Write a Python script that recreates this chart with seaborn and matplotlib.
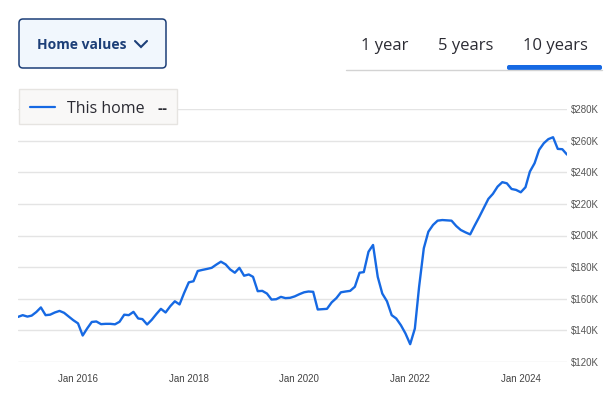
import pandas as pd
import matplotlib.pyplot as plt
import matplotlib.dates as mdates
from matplotlib.patches import FancyBboxPatch, Rectangle
from matplotlib.lines import Line2D
from matplotlib.ticker import FuncFormatter
import seaborn as sns

# ---- data ($K, monthly from Dec 2014) ----
start_month = "2014-12-01"
home_values_k = [
    148.4, 149.5, 148.6, 149.2, 151.5, 154.4, 149.5, 149.8, 151.2, 152.2,
    151.0, 148.6, 146.3, 144.3, 136.6, 141.0, 145.2, 145.5, 143.8, 144.0,
    144.0, 143.7, 145.3, 149.8, 149.5, 151.6, 147.4, 147.0, 143.6, 146.5,
    150.2, 153.5, 151.2, 155.2, 158.3, 156.3, 163.5, 170.3, 171.0, 177.5,
    178.2, 178.8, 179.5, 181.5, 183.4, 181.7, 178.5, 176.4, 179.5, 174.5,
    175.3, 173.8, 164.7, 164.9, 163.2, 159.4, 159.6, 161.1, 160.3, 160.5,
    161.4, 162.8, 164.0, 164.5, 164.3, 153.1, 153.3, 153.5, 157.6, 160.3,
    164.0, 164.5, 164.9, 167.5, 176.4, 176.8, 189.7, 194.0, 173.8, 163.2,
    158.3, 149.5, 147.4, 143.1, 137.9, 131.1, 141.0, 167.5, 191.9, 202.4,
    206.7, 209.4, 209.8, 209.6, 209.4, 206.0, 203.5, 202.0, 200.7, 206.0,
    211.6, 217.3, 223.2, 226.4, 231.0, 233.8, 233.1, 229.5, 228.9, 227.4,
    230.6, 240.5, 245.8, 254.3, 258.5, 261.1, 262.3, 254.9, 254.7, 251.3,
]
y_ticks_k = [120, 140, 160, 180, 200, 220, 240, 260, 280]
tab_labels = ["1 year", "5 years", "10 years"]
series_name = "This home"

BLUE = "#1669e3"
NAVY = "#1c3f78"

sns.set_theme(style="white")
plt.rcParams["font.family"] = ["Liberation Sans", "DejaVu Sans"]

df = pd.DataFrame({
    "date": pd.date_range(start_month, periods=len(home_values_k), freq="MS"),
    "value": home_values_k,
})

W, H = 615, 398
fig = plt.figure(figsize=(W / 100, H / 100), dpi=100)
fig.patch.set_facecolor("white")

# chart area in pixel terms
left, right, top, bottom = 18, 567, 109.3, 361.7
ax = fig.add_axes([left / W, 1 - bottom / H, (right - left) / W, (bottom - top) / H])

sns.lineplot(data=df, x="date", y="value", ax=ax, color=BLUE, linewidth=1.7)

ax.set_xlim(df["date"].iloc[0], df["date"].iloc[-1])
ax.set_ylim(y_ticks_k[0], y_ticks_k[-1])
ax.set_yticks(y_ticks_k)
ax.yaxis.tick_right()
ax.yaxis.set_major_formatter(FuncFormatter(lambda v, _: f"${v:.0f}K"))
ax.xaxis.set_major_locator(mdates.YearLocator(2, month=1))
ax.xaxis.set_major_formatter(mdates.DateFormatter("Jan %Y"))
ax.tick_params(axis="y", length=0, pad=3, labelsize=7, labelcolor="#555555")
ax.tick_params(axis="x", length=0, pad=9, labelsize=7, labelcolor="#444444")
ax.set_xlabel("")
ax.set_ylabel("")
ax.grid(axis="y", color="#e4e4e4", linewidth=1)
ax.grid(axis="x", visible=False)
for s in ax.spines.values():
    s.set_visible(False)
ax.set_facecolor("none")

# ---- UI bits drawn in pixel coordinates ----
T = fig.dpi_scale_trans


def P(x, y):
    return x / 100, (H - y) / 100


ui_font = ["Open Sans", "DejaVu Sans"]

# "Home values" dropdown button
bx, by = P(19, 68)
fig.add_artist(FancyBboxPatch((bx, by), 1.47, 0.49, boxstyle="round,pad=0,rounding_size=0.04",
                              transform=T, fc="#f1f7fd", ec=NAVY, lw=1.1))
fig.text(*P(37, 45), "Home values", transform=T, ha="left", va="center",
         fontsize=10, fontweight="bold", color=NAVY, family=ui_font)
cx = [135, 141, 147]
cy = [41, 47, 41]
fig.add_artist(Line2D([x / 100 for x in cx], [(H - y) / 100 for y in cy], transform=T,
                      color=NAVY, lw=1.5, solid_capstyle="round", solid_joinstyle="miter"))

# period tabs
for label, x in zip(tab_labels, [385, 466, 555]):
    fig.text(*P(x, 46), label, transform=T, ha="center", va="center",
             fontsize=12, color="#2b2b33", family=ui_font)
fig.add_artist(Line2D([346 / 100, 602 / 100], [(H - 69.5) / 100] * 2, transform=T,
                      color="#d3d3d3", lw=1))
ux, uy = P(507, 70)
fig.add_artist(FancyBboxPatch((ux, uy), 0.95, 0.05, boxstyle="round,pad=0,rounding_size=0.02",
                              transform=T, fc=BLUE, ec="none"))

# legend box
lx, ly = P(19, 124)
fig.add_artist(Rectangle((lx, ly), 1.58, 0.35, transform=T, fc="#f9f8f7", ec="#e6e4e1", lw=1))
fig.add_artist(Line2D([30 / 100, 55 / 100], [(H - 107) / 100] * 2, transform=T, color=BLUE, lw=1.6))
fig.text(*P(67, 109), series_name, transform=T, ha="left", va="center",
         fontsize=11.5, color="#2b2b33", family=ui_font)
fig.text(*P(157, 109), "--", transform=T, ha="left", va="center",
         fontsize=11, fontweight="bold", color="#2b2b33", family=ui_font)

fig.savefig("out.png", dpi=100)
